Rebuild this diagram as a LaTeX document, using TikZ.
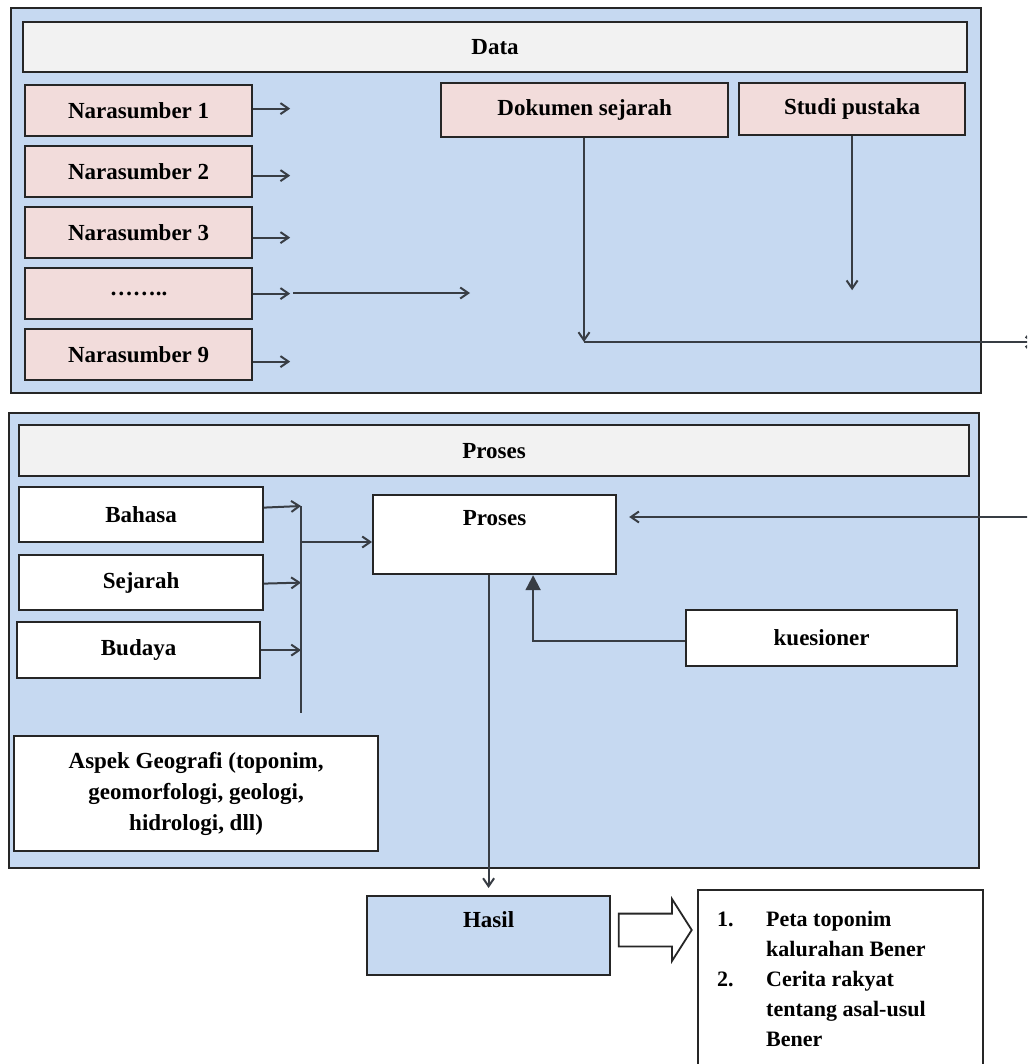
\documentclass[tikz,border=0pt]{standalone}
\usepackage{fontspec}
\setmainfont{Liberation Serif}
\usetikzlibrary{positioning, shapes.arrows, arrows.meta}

\definecolor{panelblue}{HTML}{C6D9F1}
\definecolor{headgray}{HTML}{F2F2F2}
\definecolor{srcpink}{HTML}{F2DCDB}
\definecolor{edgegray}{HTML}{262626}
\definecolor{linegray}{HTML}{383D44}

\begin{document}
\begin{tikzpicture}[
    x=1pt, y=-1pt,
    font=\fontsize{23}{31}\selectfont\bfseries,
    node distance=7.8pt and 10pt,
    panel/.style={rectangle, draw=edgegray, line width=2.4pt, fill=panelblue, anchor=north west, inner sep=0pt},
    header/.style={rectangle, draw=edgegray, line width=2.2pt, fill=headgray, anchor=north west, inner sep=0pt, minimum height=50},
    source/.style={rectangle, draw=edgegray, line width=2.2pt, fill=srcpink, anchor=north west, inner sep=0pt, minimum width=227, minimum height=51},
    factor/.style={rectangle, draw=edgegray, line width=2.2pt, fill=white, anchor=north west, inner sep=0pt},
    arrow/.style={line width=2pt, draw=linegray, -{Straight Barb[length=8pt,width=11pt]}},
    solidarrow/.style={line width=2pt, draw=linegray, -{Triangle[length=15pt,width=15pt]}}
]
\useasboundingbox (0,0) rectangle (1027,1064);
\clip (0,0) rectangle (1027,1064);

% Panel 1: Data
\node [panel, minimum width=970, minimum height=385] (datapanel) at (10,7) {};
\node [header, minimum width=944] (datahead) at (22,21) {Data};
\node [source] (ns1) at (24,84) {Narasumber 1};
\node [source, below=of ns1] (ns2) {Narasumber 2};
\node [source, below=of ns2] (ns3) {Narasumber 3};
\node [source, below=of ns3] (ns4) {\dots\dots..};
\node [source, below=of ns4] (ns5) {Narasumber 9};
\node [source, minimum width=287, minimum height=54] (dok) at (440,82) {Dokumen sejarah};
\node [source, minimum width=226, minimum height=52] (studi) at (738,82) {Studi pustaka};

\coordinate (gatherstart) at (293,293);
\coordinate (gatherend) at (470,293);
\coordinate (dokend) at (584,342);
\coordinate (todata) at (1036,342);

\foreach \i/\dy in {1/2,2/-4,3/-5,4/0,5/-7}
    \draw [arrow] ([yshift=\dy]ns\i.east) -- ++(37,0);
\draw [arrow] (gatherstart) -- (gatherend);
\draw [arrow] (dok.south -| dokend) -- (dokend);
\draw [arrow, line width=2.6pt] (dokend) -- (todata);
\draw [arrow] (studi.south) -- ++(0,154);

% Panel 2: Proses
\node [panel, minimum width=970, minimum height=455] (prosespanel) at (8,412) {};
\node [header, minimum width=950, minimum height=51] (proseshead) at (18,424) {Proses};
\node [factor, minimum width=244, minimum height=55] (bahasa) at (18,486) {Bahasa};
\node [factor, minimum width=244, minimum height=55, below=10.8pt of bahasa] (sejarah) {Sejarah};
\node [factor, minimum width=243, minimum height=56, below=9.8pt of sejarah, xshift=-2.5pt] (budaya) {Budaya};
\node [factor, minimum width=364, minimum height=115, align=center] (aspek) at (13,735)
    {Aspek Geografi (toponim,\\geomorfologi, geologi,\\hidrologi, dll)};
\node [factor, minimum width=243, text height=30pt, text depth=49pt] (proses) at (372,494) {Proses};
\node [factor, minimum width=271, minimum height=56] (kues) at (685,609) {kuesioner};

\coordinate (bartop) at (301,506);
\coordinate (barbot) at (301,713);
\coordinate (barmid) at (301,542);
\coordinate (fromdata) at (1030,517);

\draw [line width=2.2pt, draw=linegray] (bartop) -- (barbot);
\draw [arrow] ([yshift=7]bahasa.east) -- (bartop);
\draw [arrow] ([yshift=-1]sejarah.east) -- (sejarah.east -| bartop);
\draw [arrow] (budaya.east) -- (budaya.east -| bartop);
\draw [arrow] (barmid) -- (proses.west |- barmid);
\draw [arrow] (fromdata) -- ([xshift=12]proses.east |- fromdata);
\draw [solidarrow] ([yshift=-3]kues.west) -| ([xshift=38.5]proses.south);

% Hasil
\node [factor, fill=panelblue, minimum width=243, text height=31pt, text depth=48pt] (hasil) at (366,895) {Hasil};
\node [single arrow, draw=edgegray, line width=1.8pt, fill=white, minimum height=73, minimum width=60,
    single arrow head extend=14.5pt, single arrow tip angle=115, inner xsep=0pt, inner ysep=15.5pt,
    text height=0pt, text depth=0pt] (toresult) at (650,930) {};
\node [factor, line width=1.8pt, minimum width=285, minimum height=200] (result) at (697,889) {};
\node [anchor=base west, inner sep=0pt, font=\fontsize{22}{30}\selectfont\bfseries] (resultlist) at (717,926)
    {\begin{tabular}[t]{@{}p{49pt}@{}l@{}}
     1. & Peta toponim\\
        & kalurahan Bener\\
     2. & Cerita rakyat\\
        & tentang asal-usul\\
        & Bener
     \end{tabular}};

\draw [arrow] (proses.south -| hasil.north) -- ([yshift=7]hasil.north);
\end{tikzpicture}
\end{document}
